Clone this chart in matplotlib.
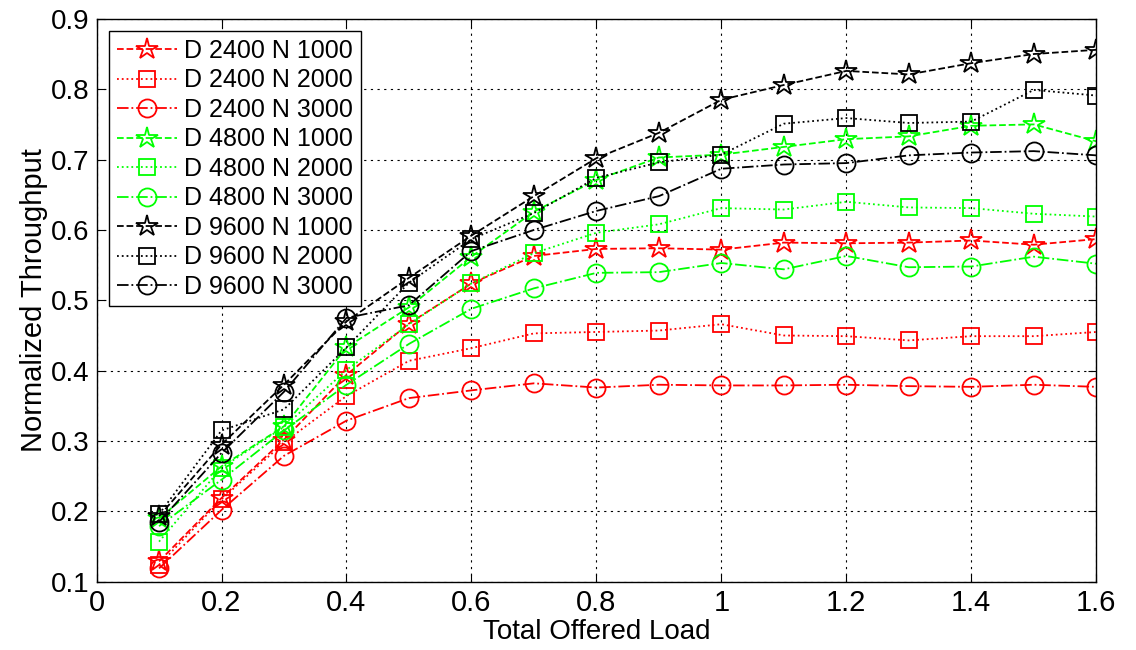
import numpy as np
import matplotlib
matplotlib.use("Agg")
import matplotlib.pyplot as plt

plt.rcParams['font.family'] = ['Liberation Sans', 'DejaVu Sans']

load = [0.1, 0.2, 0.3, 0.4, 0.5, 0.6, 0.7, 0.8, 0.9, 1.0, 1.1, 1.2, 1.3, 1.4, 1.5, 1.6]

d2400_n1000 = [0.129, 0.219, 0.302, 0.394, 0.467, 0.524, 0.563, 0.573, 0.574, 0.572, 0.582, 0.581, 0.582, 0.585, 0.579, 0.587]
d2400_n2000 = [0.124, 0.217, 0.298, 0.364, 0.414, 0.432, 0.453, 0.455, 0.457, 0.466, 0.450, 0.449, 0.443, 0.449, 0.449, 0.455]
d2400_n3000 = [0.119, 0.202, 0.279, 0.329, 0.361, 0.372, 0.382, 0.376, 0.380, 0.379, 0.379, 0.380, 0.378, 0.377, 0.380, 0.377]
d4800_n1000 = [0.190, 0.264, 0.321, 0.433, 0.490, 0.562, 0.626, 0.671, 0.703, 0.707, 0.718, 0.729, 0.733, 0.748, 0.750, 0.726]
d4800_n2000 = [0.157, 0.262, 0.320, 0.401, 0.466, 0.524, 0.567, 0.596, 0.608, 0.631, 0.629, 0.640, 0.632, 0.631, 0.623, 0.619]
d4800_n3000 = [0.179, 0.245, 0.315, 0.380, 0.438, 0.488, 0.517, 0.539, 0.540, 0.553, 0.544, 0.563, 0.547, 0.548, 0.562, 0.552]
d9600_n1000 = [0.193, 0.295, 0.380, 0.470, 0.532, 0.592, 0.648, 0.702, 0.738, 0.785, 0.806, 0.826, 0.821, 0.837, 0.850, 0.856]
d9600_n2000 = [0.196, 0.315, 0.345, 0.433, 0.525, 0.587, 0.624, 0.674, 0.696, 0.707, 0.751, 0.759, 0.752, 0.754, 0.799, 0.791]
d9600_n3000 = [0.185, 0.283, 0.370, 0.475, 0.493, 0.570, 0.600, 0.627, 0.648, 0.687, 0.693, 0.695, 0.706, 0.710, 0.712, 0.706]

series = [
    ("D 2400 N 1000", d2400_n1000),
    ("D 2400 N 2000", d2400_n2000),
    ("D 2400 N 3000", d2400_n3000),
    ("D 4800 N 1000", d4800_n1000),
    ("D 4800 N 2000", d4800_n2000),
    ("D 4800 N 3000", d4800_n3000),
    ("D 9600 N 1000", d9600_n1000),
    ("D 9600 N 2000", d9600_n2000),
    ("D 9600 N 3000", d9600_n3000),
]

colors = ['#ff0000', '#00ff00', '#000000']
# N 1000 -> dashed/star, N 2000 -> dotted/square, N 3000 -> dash-dot/circle
styles = [('--', '*', 16), (':', 's', 12), ('-.', 'o', 13)]

fig = plt.figure(figsize=(11.36, 6.5), dpi=100)
ax = fig.add_axes([0.085, 0.105, 0.880, 0.866])

for i, (label, values) in enumerate(series):
    ls, mk, ms = styles[i % 3]
    c = colors[i // 3]
    ax.plot(load, values, linestyle=ls, marker=mk, markersize=ms, color=c,
            markerfacecolor='none', markeredgecolor=c, markeredgewidth=1.3,
            linewidth=1.3, label=label)

ax.set_xlim(0, 1.6)
ax.set_ylim(0.1, 0.9)
ax.set_xticks(np.arange(0, 1.61, 0.2))
ax.set_xticklabels(['0', '0.2', '0.4', '0.6', '0.8', '1', '1.2', '1.4', '1.6'])
ax.set_yticks(np.arange(0.1, 0.91, 0.1))
ax.set_yticklabels(['%.1f' % v for v in np.arange(0.1, 0.91, 0.1)])

ax.grid(True, color='black', linestyle=(0, (2, 4)), linewidth=0.8)
ax.tick_params(direction='in', top=True, right=True, length=6, width=0.8,
               labelsize=20, pad=5)
for lbl in ax.get_xticklabels():
    lbl.set_fontsize(21)
for s in ax.spines.values():
    s.set_linewidth(1.0)

ax.set_xlabel("Total Offered Load", fontsize=20, labelpad=2)
ax.set_ylabel("Normalized Throughput", fontsize=21, labelpad=2)

leg = ax.legend(loc='upper left', fontsize=18, fancybox=False, framealpha=1,
                edgecolor='black', labelspacing=0.22, handlelength=2.4,
                handletextpad=0.3, borderpad=0.3, borderaxespad=0.5)
leg.get_frame().set_linewidth(1.0)

fig.savefig("out.png", dpi=100)
